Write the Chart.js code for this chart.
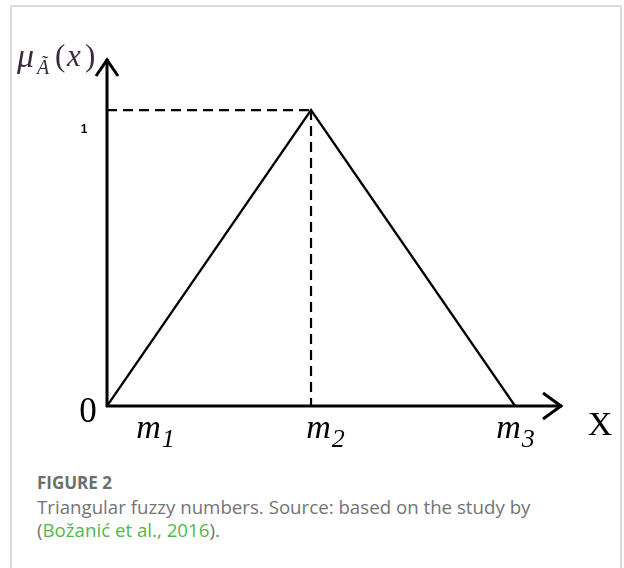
<!DOCTYPE html>
<html>
<head>
<meta charset="utf-8">
<script src="https://cdn.jsdelivr.net/npm/chart.js@4/dist/chart.umd.min.js"></script>
<style>
    html, body { margin: 0; padding: 0; background: #fff; }
    body { width: 624px; height: 568px; position: relative; overflow: hidden; }
    .frame { position: absolute; left: 10px; top: 5px; width: 612px; height: 600px; border: 2px solid #dcdcdc; box-sizing: border-box; }
    .plot { position: absolute; left: 0; top: 0; width: 624px; height: 460px; }
    .caption { position: absolute; left: 37px; top: 471px; width: 545px; font-family: "Open Sans", Lato, sans-serif; font-size: 18.7px; line-height: 23px; color: #747474; }
    .caption b { display: block; font-weight: 700; color: #6e6e6e; font-size: 17px; margin-bottom: 1px; }
    .caption a { color: #4fb84f; text-decoration: none; }
</style>
</head>
<body>
<div class="frame"></div>
<div class="plot"><canvas id="fuzzyChart"></canvas></div>
<div class="caption">
    <b>FIGURE 2</b>
    Triangular fuzzy numbers. Source: based on the study by (<a>Božanić et al., 2016</a>).
</div>
<script>
const pointNames = ['m1', 'm2', 'm3'];
const pointX = [0, 1, 2];
const membership = [0, 1, 0];
const yTickLabels = ['0', '1'];
const axisMax = { x: 2.235, y: 1.176 };

document.addEventListener('DOMContentLoaded', function () {
    drawChart();
});

function drawChart() {
    const ctx = document.getElementById('fuzzyChart');
    const peakIndex = membership.indexOf(Math.max(...membership));

    const triangle = pointX.map((x, i) => ({ x: x, y: membership[i] }));
    const dashH = [{ x: 0, y: membership[peakIndex] }, { x: pointX[peakIndex], y: membership[peakIndex] }];
    const dashV = [{ x: pointX[peakIndex], y: membership[peakIndex] }, { x: pointX[peakIndex], y: 0 }];

    // axes with arrows + the math labels
    const axesPlugin = {
        id: 'axesPlugin',
        afterDatasetsDraw(chart) {
            const c = chart.ctx;
            const xs = chart.scales.x;
            const ys = chart.scales.y;
            const x0 = xs.getPixelForValue(0);
            const y0 = ys.getPixelForValue(0);
            const xEnd = xs.getPixelForValue(axisMax.x);
            const yEnd = ys.getPixelForValue(axisMax.y);

            c.save();
            c.strokeStyle = '#000';
            c.lineWidth = 3;
            c.lineCap = 'butt';
            c.beginPath();
            c.moveTo(x0, y0 + 1);
            c.lineTo(x0, yEnd + 1);
            c.moveTo(x0 - 1, y0);
            c.lineTo(xEnd - 1, y0);
            c.stroke();

            c.lineJoin = 'miter';
            c.beginPath();
            c.moveTo(x0 - 11, yEnd + 18);
            c.lineTo(x0, yEnd + 2);
            c.lineTo(x0 + 11, yEnd + 18);
            c.moveTo(xEnd - 20, y0 - 13);
            c.lineTo(xEnd - 2, y0);
            c.lineTo(xEnd - 20, y0 + 13);
            c.stroke();

            c.fillStyle = '#000';
            c.textBaseline = 'alphabetic';

            // y tick labels
            c.font = '35px "Liberation Serif", serif';
            c.textAlign = 'center';
            c.fillText(yTickLabels[0], x0 - 19, y0 + 16);
            c.font = 'bold 12px "Liberation Sans", sans-serif';
            c.fillText(yTickLabels[1], x0 - 23, ys.getPixelForValue(1) + 23);

            // x point labels m1, m2, m3
            const offsets = [48, 14, 0];
            pointNames.forEach((name, i) => {
                const cx = xs.getPixelForValue(pointX[i]) + offsets[i];
                c.font = 'italic 34px "Liberation Serif", serif';
                const mw = c.measureText('m').width;
                c.font = 'italic 26px "Liberation Serif", serif';
                const sw = c.measureText(name.slice(1)).width;
                const left = cx - (mw + sw) / 2;
                c.textAlign = 'left';
                c.font = 'italic 34px "Liberation Serif", serif';
                c.fillText('m', left, y0 + 32);
                c.font = 'italic 26px "Liberation Serif", serif';
                c.fillText(name.slice(1), left + mw + 1, y0 + 41);
            });

            // axis names
            c.font = '34px "Liberation Serif", serif';
            c.textAlign = 'center';
            c.fillText('X', xEnd + 37, y0 + 29);

            c.fillStyle = '#3b2b40';
            c.textAlign = 'left';
            c.font = 'italic 34px "Liberation Serif", serif';
            c.fillText('\u03bc', 17, 67);
            c.font = 'italic 20px "Liberation Serif", serif';
            c.fillText('A\u0303', 37, 74);
            c.font = '31px "Liberation Serif", serif';
            c.fillText('(', 55, 66);
            c.font = 'italic 31px "Liberation Serif", serif';
            c.fillText('x', 67, 66);
            c.font = '31px "Liberation Serif", serif';
            c.fillText(')', 85, 66);
            c.restore();
        },
    };

    new Chart(ctx, {
        type: 'scatter',
        data: {
            datasets: [{
                label: 'Triangle',
                data: triangle,
                showLine: true,
                borderColor: '#000',
                borderWidth: 2.3,
                pointRadius: 0,
                tension: 0,
            }, {
                label: 'Peak level',
                data: dashH,
                showLine: true,
                borderColor: '#000',
                borderWidth: 2.2,
                borderDash: [10, 6],
                pointRadius: 0,
            }, {
                label: 'Peak position',
                data: dashV,
                showLine: true,
                borderColor: '#000',
                borderWidth: 2.2,
                borderDash: [10, 6],
                pointRadius: 0,
            }],
        },
        options: {
            responsive: true,
            maintainAspectRatio: false,
            animation: false,
            layout: { padding: { left: 107, right: 61, top: 58, bottom: 54 } },
            plugins: {
                legend: { display: false },
                tooltip: { enabled: false },
            },
            scales: {
                x: { type: 'linear', min: 0, max: axisMax.x, display: false },
                y: { type: 'linear', min: 0, max: axisMax.y, display: false },
            },
        },
        plugins: [axesPlugin],
    });
}
</script>
</body>
</html>
